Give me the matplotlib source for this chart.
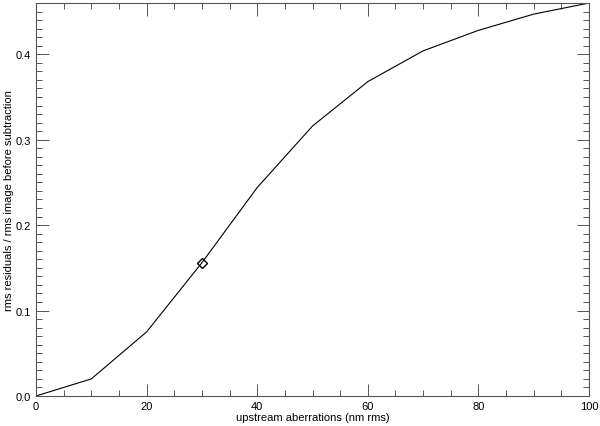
import matplotlib
matplotlib.use("Agg")
import matplotlib.pyplot as plt
from matplotlib.ticker import MultipleLocator
import numpy as np

plt.rcParams['font.family'] = ['Liberation Sans', 'DejaVu Sans']

# upstream aberrations vs residual ratio
aberr = [0, 10, 20, 30, 40, 50, 60, 70, 80, 90, 100]
ratio = [0.0, 0.020, 0.075, 0.156, 0.244, 0.316, 0.368, 0.404, 0.428, 0.447, 0.460]
mark_x = [30]
mark_y = [0.156]

fig = plt.figure(figsize=(6, 4.27), dpi=100)
ax = fig.add_axes([0.06, 0.0703, 0.9217, 0.9203])

ax.plot(aberr, ratio, color='black', lw=0.8)
ax.plot(mark_x, mark_y, marker='D', ms=5, mfc='none', mec='black', mew=1.0, ls='none')

ax.set_xlim(0, 100)
ax.set_ylim(0, 0.46)
ax.xaxis.set_major_locator(MultipleLocator(20))
ax.xaxis.set_minor_locator(MultipleLocator(5))
ax.yaxis.set_major_locator(MultipleLocator(0.1))
ax.yaxis.set_minor_locator(MultipleLocator(0.01))
ax.yaxis.set_major_formatter(matplotlib.ticker.FormatStrFormatter('%.1f'))

ax.tick_params(which='both', direction='in', top=True, right=True, labelsize=8,
               color='#555555', width=0.7)
ax.tick_params(which='major', length=9)
ax.tick_params(which='minor', length=4)
for sp in ax.spines.values():
    sp.set_color('#555555')
    sp.set_linewidth(0.8)

ax.set_xlabel('upstream aberrations (nm rms)', fontsize=8, labelpad=0.5)
ax.set_ylabel('rms residuals / rms image before subtraction', fontsize=8, labelpad=1.5)

fig.savefig('out.png', dpi=100)
